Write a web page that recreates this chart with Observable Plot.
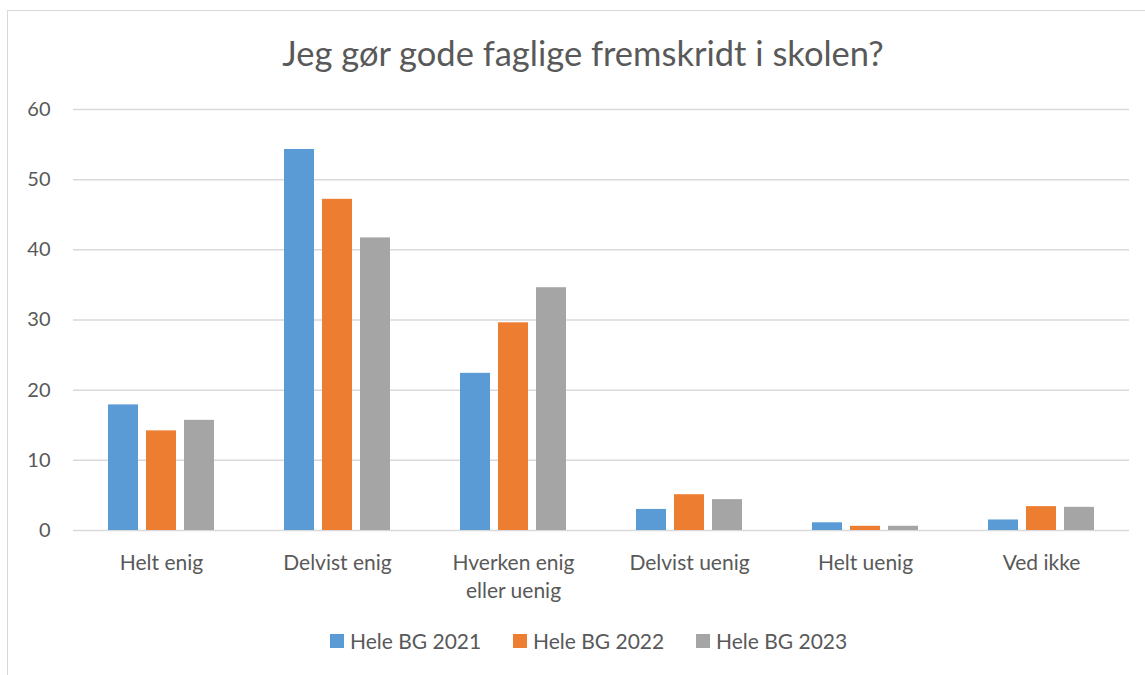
<!DOCTYPE html>
<html>
<head>
<meta charset="utf-8">
<script src="https://cdn.jsdelivr.net/npm/d3@7"></script>
<script src="https://cdn.jsdelivr.net/npm/@observablehq/plot@0.6"></script>
<style>
  body { margin: 0; background: #fff; font-family: Lato, "Open Sans", sans-serif; }
  #wrap { position: relative; width: 1145px; height: 675px; overflow: hidden; background: #fff; }
  #frameTop { position: absolute; left: 7px; top: 10px; width: 1138px; height: 0; border-top: 1.5px solid #d9d9d9; }
  #frameLeft { position: absolute; left: 7px; top: 10px; width: 0; height: 665px; border-left: 1.5px solid #d9d9d9; }
  #title { position: absolute; top: 32px; left: 583px; transform: translateX(-50%); white-space: nowrap; font-size: 34.5px; color: #595959; }
  #chart { position: absolute; left: 0; top: 0; }
  #legend { position: absolute; top: 628px; left: 330px; display: flex; align-items: center; font-size: 21px; color: #595959; }
  .item { display: flex; align-items: center; width: 183px; }
  .sw { width: 14px; height: 14px; margin-right: 6px; }
</style>
</head>
<body>
<div id="wrap">
  <div id="frameTop"></div>
  <div id="frameLeft"></div>
  <div id="title">Jeg gør gode faglige fremskridt i skolen?</div>
  <div id="chart"></div>
  <div id="legend"></div>
</div>
<script>
const categories = ["Helt enig", "Delvist enig", "Hverken enig\neller uenig", "Delvist uenig", "Helt uenig", "Ved ikke"];
const series = ["Hele BG 2021", "Hele BG 2022", "Hele BG 2023"];
const v2021 = [17.9, 54.3, 22.4, 3.0, 1.1, 1.5];
const v2022 = [14.2, 47.2, 29.6, 5.1, 0.6, 3.4];
const v2023 = [15.7, 41.7, 34.6, 4.4, 0.6, 3.3];
const colors = ["#5B9BD5", "#ED7D31", "#A5A5A5"];
const yTicks = [0, 10, 20, 30, 40, 50, 60];

const seriesValues = [v2021, v2022, v2023];
const data = [];
categories.forEach((c, i) => {
  series.forEach((s, j) => data.push({category: c, series: s, value: seriesValues[j][i]}));
});

const chart = Plot.plot({
  width: 1145,
  height: 620,
  marginTop: 109,
  marginBottom: 90,
  marginLeft: 71,
  marginRight: 15,
  style: {color: "#595959", fontFamily: "Lato, 'Open Sans', sans-serif", fontSize: "20px", background: "transparent"},
  fx: {domain: categories, padding: 0, label: null},
  x: {domain: series, paddingInner: 0.205, paddingOuter: 0.863, axis: null},
  y: {domain: [0, 60], label: null},
  color: {domain: series, range: colors},
  marks: [
    Plot.gridY(yTicks, {stroke: "#d9d9d9", strokeOpacity: 1, strokeWidth: 1.5}),
    Plot.axisY(yTicks, {tickSize: 0, tickPadding: 23, label: null, fontSize: 20}),
    Plot.barY(data, {fx: "category", x: "series", y: "value", fill: "series"}),
    Plot.axisFx({anchor: "bottom", tickSize: 0, tickPadding: 20, label: null, fontSize: 21, lineHeight: 1.33})
  ]
});
document.getElementById("chart").appendChild(chart);

const legend = document.getElementById("legend");
series.forEach((s, j) => {
  const item = document.createElement("div");
  item.className = "item";
  const sw = document.createElement("div");
  sw.className = "sw";
  sw.style.background = colors[j];
  const t = document.createElement("span");
  t.textContent = s;
  item.appendChild(sw);
  item.appendChild(t);
  legend.appendChild(item);
});
</script>
</body>
</html>
